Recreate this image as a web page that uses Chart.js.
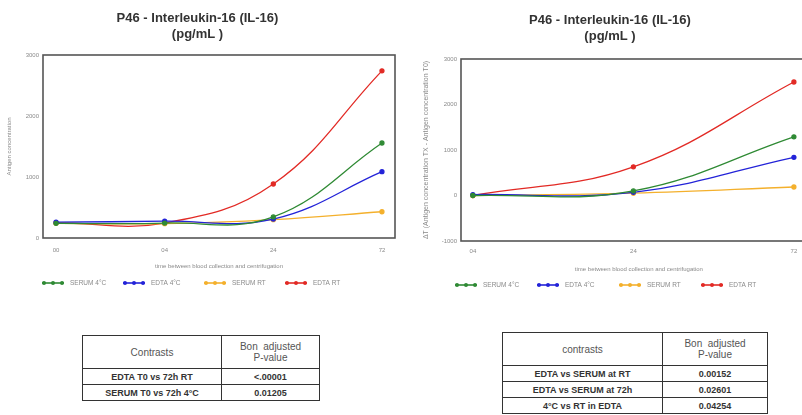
<!DOCTYPE html>
<html>
<head>
<meta charset="utf-8">
<script src="https://cdn.jsdelivr.net/npm/chart.js@4/dist/chart.umd.min.js"></script>
<style>
  html, body { margin: 0; padding: 0; background: #fff; overflow: hidden; }
  body { width: 802px; height: 415px; position: relative; }
  .panel { position: absolute; top: 0; height: 300px; }
  #leftPanel { left: 0; width: 400px; }
  #rightPanel { left: 400px; width: 420px; }
  table.stats {
    position: absolute; border-collapse: collapse;
    font-family: "Liberation Sans", Arial, sans-serif; color: #222;
  }
  table.stats td { border: 1.5px solid #333; text-align: center; padding: 0; }
  table.stats tr.head td { font-size: 10px; color: #555; line-height: 11px; }
  table.stats tr.row td { font-size: 9px; font-weight: bold; height: 15px; color: #333; }
</style>
</head>
<body>
<div class="panel" id="leftPanel"><canvas id="leftChart"></canvas></div>
<div class="panel" id="rightPanel"><canvas id="rightChart"></canvas></div>

<table class="stats" id="leftTable" style="left:82px; top:335px; width:238px;">
  <tr class="head"><td style="width:138px; height:32px;">Contrasts</td><td>Bon&nbsp;&nbsp;adjusted<br>P-value</td></tr>
</table>
<table class="stats" id="rightTable" style="left:502px; top:332px; width:266px;">
  <tr class="head"><td style="width:159px; height:32px;">contrasts</td><td>Bon&nbsp;&nbsp;adjusted<br>P-value</td></tr>
</table>

<script>
// Time points (hours between blood collection and centrifugation)
const timesAbs = ['00', '04', '24', '72'];
const timesDelta = ['04', '24', '72'];

// Antigen concentration (pg/mL)
const serum4C = [240, 245, 345, 1557];
const edta4C = [260, 275, 310, 1087];
const serumRT = [240, 235, 300, 430];
const edtaRT = [250, 245, 885, 2740];

// Change from T0 (pg/mL)
const dSerum4C = [0, 100, 1290];
const dEdta4C = [20, 70, 840];
const dSerumRT = [0, 50, 187];
const dEdtaRT = [0, 630, 2495];

const seriesNames = ['SERUM 4°C', 'EDTA 4°C', 'SERUM RT', 'EDTA RT'];
const seriesColors = ['#2f8a34', '#2323d8', '#f4b02c', '#e22a25'];

// Contrast tables
const contrastsAbs = ['EDTA T0 vs 72h RT', 'SERUM T0 vs 72h 4°C'];
const pValuesAbs = ['<.00001', '0.01205'];
const contrastsDelta = ['EDTA vs SERUM at RT', 'EDTA vs SERUM  at 72h', '4°C vs RT in EDTA'];
const pValuesDelta = ['0.00152', '0.02601', '0.04254'];

function fillTable(id, names, values) {
  const t = document.getElementById(id);
  names.forEach((n, i) => {
    const tr = document.createElement('tr');
    tr.className = 'row';
    const a = document.createElement('td'); a.textContent = n;
    const b = document.createElement('td'); b.textContent = values[i];
    tr.appendChild(a); tr.appendChild(b); t.appendChild(tr);
  });
}
fillTable('leftTable', contrastsAbs, pValuesAbs);
fillTable('rightTable', contrastsDelta, pValuesDelta);

const tickFont = { family: 'Liberation Sans, Arial, sans-serif', size: 6 };
const tickColor = '#8a8a8a';

// Frame around the plotting area
const framePlugin = {
  id: 'frame',
  afterDraw(chart) {
    const a = chart.chartArea, ctx = chart.ctx;
    ctx.save();
    ctx.strokeStyle = '#555';
    ctx.lineWidth = 1.6;
    ctx.strokeRect(a.left, a.top, a.right - a.left, a.bottom - a.top);
    ctx.restore();
  }
};

// Legend row: a short line with three dots, followed by the series name
const dotLegendPlugin = {
  id: 'dotLegend',
  afterDraw(chart, args, opts) {
    const ctx = chart.ctx;
    ctx.save();
    ctx.font = '6.5px "Liberation Sans", Arial, sans-serif';
    ctx.textBaseline = 'middle';
    chart.data.datasets.forEach((ds, i) => {
      const x = opts.x + i * opts.slot;
      const y = opts.y;
      ctx.strokeStyle = ds.borderColor;
      ctx.fillStyle = ds.borderColor;
      ctx.lineWidth = 1.6;
      ctx.beginPath(); ctx.moveTo(x, y); ctx.lineTo(x + 22, y); ctx.stroke();
      [2, 11, 20].forEach(dx => {
        ctx.beginPath(); ctx.arc(x + dx, y, 2, 0, Math.PI * 2); ctx.fill();
      });
      ctx.fillStyle = '#8a8a8a';
      ctx.fillText(ds.label, x + opts.textGap, y);
    });
    ctx.restore();
  }
};

function makeDatasets(valuesList) {
  return valuesList.map((vals, i) => ({
    label: seriesNames[i],
    data: vals.map((v, k) => ({ x: k, y: v })),
    borderColor: seriesColors[i],
    backgroundColor: seriesColors[i],
    borderWidth: 1.3,
    pointRadius: 2,
    pointHoverRadius: 2,
    tension: 0.4,
    fill: false
  }));
}

function makeChart(canvasId, cfg) {
  return new Chart(document.getElementById(canvasId), {
    type: 'line',
    data: { datasets: makeDatasets(cfg.values) },
    options: {
      responsive: true,
      maintainAspectRatio: false,
      animation: false,
      events: [],
      layout: { padding: cfg.padding },
      plugins: {
        legend: { display: false },
        tooltip: { enabled: false },
        title: {
          display: true,
          text: ['P46 - Interleukin-16 (IL-16)', '(pg/mL )'],
          color: '#333',
          font: { family: 'Liberation Sans, Arial, sans-serif', size: 13, weight: 'bold', lineHeight: 1.25 },
          padding: cfg.titlePadding
        },
        dotLegend: cfg.legend
      },
      scales: {
        x: {
          type: 'linear',
          min: cfg.xMin,
          max: cfg.xMax,
          grid: { display: false, drawTicks: false },
          border: { display: false },
          afterBuildTicks: s => { s.ticks = cfg.labels.map((_, i) => ({ value: i })); },
          afterFit: s => { s.height = 32; },
          ticks: {
            font: tickFont, color: tickColor, padding: cfg.xTickPad,
            callback: v => cfg.labels[v]
          },
          title: {
            display: true,
            text: 'time between blood collection and centrifugation',
            color: tickColor, font: { ...tickFont, lineHeight: 1.2 },
            padding: { top: 0, bottom: 0 }
          }
        },
        y: {
          min: cfg.yMin,
          max: cfg.yMax,
          grid: { display: false, drawTicks: false },
          border: { display: false },
          afterFit: s => { s.width = cfg.yWidth; },
          ticks: {
            stepSize: 1000, font: tickFont, color: tickColor, padding: 4,
            callback: v => String(v)
          },
          title: {
            display: true,
            text: cfg.yTitle,
            color: tickColor, font: { ...tickFont, size: cfg.yTitleSize, lineHeight: 1.2 },
            padding: { top: cfg.yTitlePad, bottom: 0 }
          }
        }
      }
    },
    plugins: [framePlugin, dotLegendPlugin]
  });
}

makeChart('leftChart', {
  values: [serum4C, edta4C, serumRT, edtaRT],
  labels: timesAbs,
  xMin: -0.12, xMax: 3.12,
  yMin: 0, yMax: 3000,
  yWidth: 43,
  yTitle: 'Antigen concentration',
  yTitleSize: 6,
  yTitlePad: 6,
  xTickPad: 9,
  padding: { top: 0, left: 0, right: 5, bottom: 30 },
  titlePadding: { top: 10, bottom: 12.5 },
  legend: { x: 42, y: 283, slot: 81, textGap: 28 }
});

makeChart('rightChart', {
  values: [dSerum4C, dEdta4C, dSerumRT, dEdtaRT],
  labels: timesDelta,
  xMin: -0.074, xMax: 2.142,
  yMin: -1000, yMax: 3000,
  yWidth: 61,
  yTitle: 'ΔT (Antigen concentration TX - Antigen concentration T0)',
  yTitleSize: 7,
  yTitlePad: 22,
  xTickPad: 7,
  padding: { top: 0, left: 0, right: 0, bottom: 27 },
  titlePadding: { top: 12, bottom: 14.5 },
  legend: { x: 55, y: 285, slot: 82, textGap: 28 }
});
</script>
</body>
</html>
